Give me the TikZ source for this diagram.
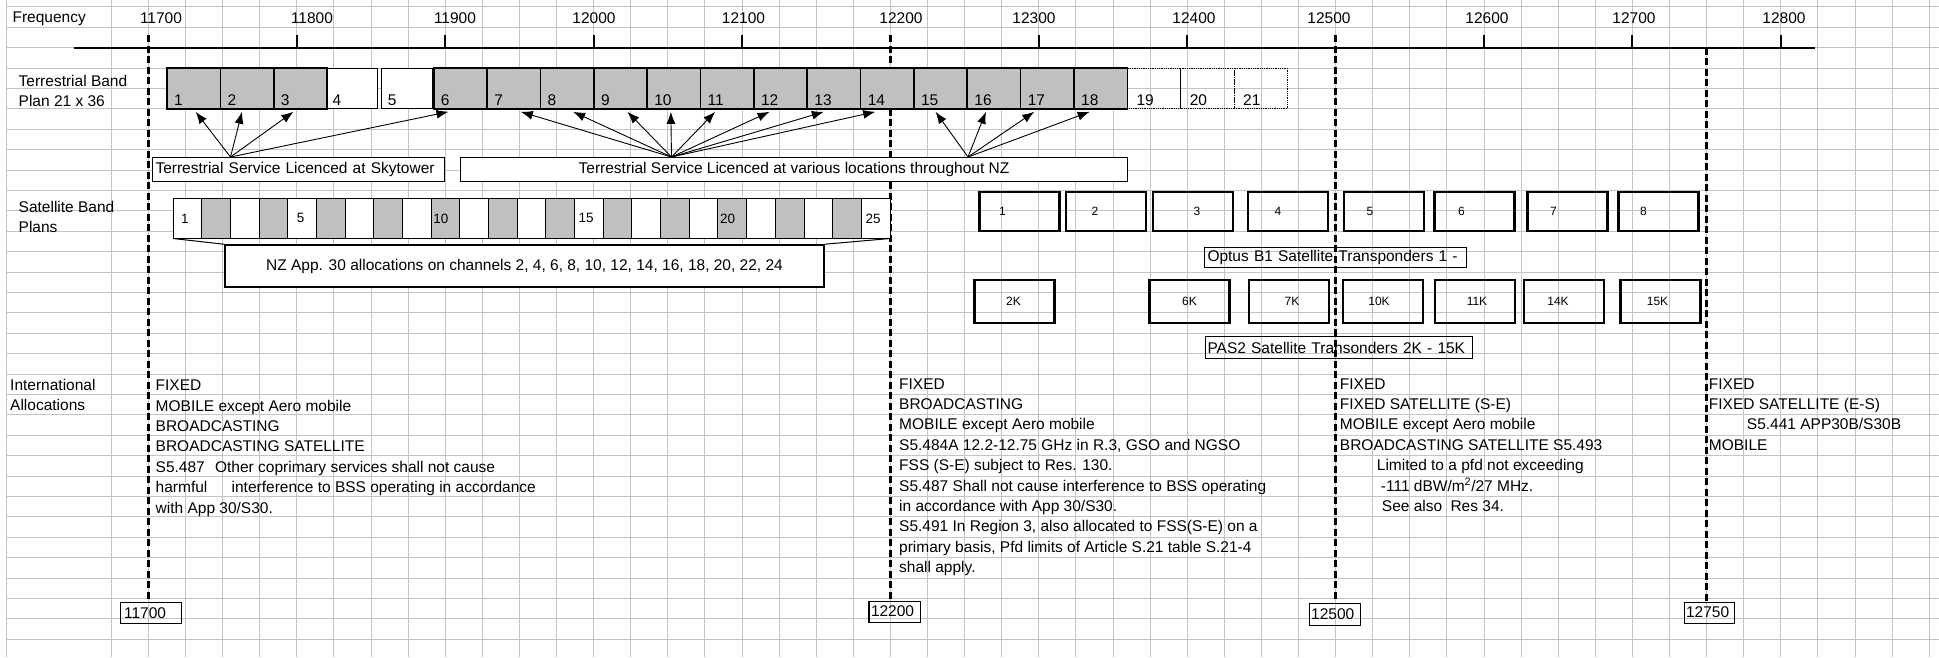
\documentclass[tikz,border=0pt]{standalone}
\usepackage{fontspec}
\setmainfont{Liberation Sans}
\usepackage{tikz}
\usetikzlibrary{arrows.meta, positioning}
\definecolor{cellgray}{RGB}{192,192,192}
\definecolor{gridgray}{RGB}{196,196,196}
\newcommand{\cellfont}{\fontsize{15.5}{20.4}\selectfont}
\newcommand{\numfont}{\fontsize{13.5}{16}\selectfont}
\newcommand{\xpfont}{\fontsize{12}{14}\selectfont}
\newcommand{\freqx}[1]{148.4+1.484*(#1-11700)}
\tikzstyle{every node}=[font=\cellfont]
\tikzstyle{gridline}=[draw=gridgray,line width=1pt]
\tikzstyle{freqline}=[line width=2.4pt,dash pattern=on 7pt off 3.5pt]
\tikzstyle{tchan}=[draw,line width=1.6pt,fill=cellgray,rectangle,minimum width=53.35pt,minimum height=40.8pt,inner sep=0pt,outer sep=0pt]
\tikzstyle{tnum}=[anchor=south west,inner sep=0pt,xshift=7pt,yshift=3pt]
\tikzstyle{schan}=[draw,line width=0.9pt,fill=white,rectangle,minimum width=28.68pt,minimum height=40.2pt,inner sep=0pt,outer sep=0pt]
\tikzstyle{xpdr}=[draw,line width=2.2pt,rectangle,minimum width=80pt,inner sep=0pt]
\tikzstyle{tag}=[draw,line width=1pt,rectangle,anchor=north west,inner sep=0pt]
\tikzstyle{fbox}=[draw,line width=1.2pt,rectangle,anchor=north west,minimum height=21pt,inner sep=0pt,align=left]
\tikzstyle{alloc}=[anchor=north west,align=left,inner sep=0pt]

\begin{document}
\begin{tikzpicture}[x=1pt,y=-1pt,>={Latex[length=12pt,width=9pt]}]
    \useasboundingbox (0,0) rectangle (1939,657);
    \fill[white] (0,0) rectangle (1939,657);
    \draw[gridline] (6.7,0) -- (6.7,657);
    \foreach \gx in {0,...,49}
        \draw[gridline] ({111.3+37.1*\gx},0) -- ({111.3+37.1*\gx},657);
    \foreach \gy in {0,...,31}
        \draw[gridline] (6.7,{6.8+20.4*\gy}) -- (1939,{6.8+20.4*\gy});

    \node[anchor=west] (freq) at (9,18.5) {Frequency};
    \node[alloc] (terrlbl) at (18.5,74.7) {Terrestrial Band\\Plan 21 x 36};
    \node[alloc] (satlbl) at (18.5,200.8) {Satellite Band\\Plans};
    \node[alloc] (intlbl) at (10,378.9) {International\\Allocations};

    \foreach \f/\lx in {11700/161,11800/312,11900/455,12000/594,12100/743.5,12200/901,12300/1034,12400/1194,12500/1329,12600/1487,12700/1634,12800/1784}
        \node (f\f) at (\lx,18.5) {\f};
    \draw[line width=2pt] (74,47.6) -- (1815,47.6);
    \foreach \f in {11800,11900,12000,12100,12300,12400,12600,12700,12800}
        \draw[line width=2pt] ({\freqx{\f}},35) -- ({\freqx{\f}},47.6);
    \foreach \f/\top in {11700/35,12200/35,12500/35,12750/47.6}
        \draw[freqline] ({\freqx{\f}},\top) -- ({\freqx{\f}},601);

    \node[tchan,fill=white,line width=1pt,minimum width=52.3pt,label={[tnum]south west:4}] (t4) at (351.65,88.4) {};
    \node[tchan,fill=white,line width=1pt,minimum width=50.9pt,label={[tnum,xshift=-1pt]south west:5}] (t5) at (407.15,88.4) {};
    \foreach \k in {1,2,3,6,7,8,9,10,11,12,13,14,15,16,17,18}
        \node[tchan,label={[tnum]south west:\k}] (t\k) at ({167+53.35*(\k-0.5)},88.4) {};
    \foreach \k in {19,20,21}
        \node[tchan,fill=none,line width=0.8pt,densely dotted,label={[tnum,xshift=2pt]south west:\k}] (t\k) at ({167+53.35*(\k-0.5)},88.4) {};
    \draw[line width=1pt] (t19.north east) -- (t19.south east);

    \node[tag,fill=white,minimum width=292pt,minimum height=24pt,text width=286pt,inner xsep=3pt,align=left] (sky) at (152,157) {Terrestrial Service Licenced at Skytower};
    \node[tag,fill=white,minimum width=667pt,minimum height=24pt] (various) at (460,157) {Terrestrial Service Licenced at various locations throughout NZ};
    \coordinate (skysrc) at ([xshift=-68pt]sky.north);
    \coordinate (nzsrc) at ([xshift=-122.5pt]various.north);
    \coordinate (aklsrc) at ([xshift=174pt]various.north);
    \foreach \k/\dx in {1/2,2/-5,3/-7,6/-12}
        \draw[->,line width=0.9pt] (skysrc) -- ([xshift=\dx,yshift=-3]t\k.south);
    \foreach \k/\dx in {7/7,8/6,9/7,10/-3,11/-12,12/-11,13/-10,14/-12}
        \draw[->,line width=0.9pt] (nzsrc) -- ([xshift=\dx,yshift=-3]t\k.south);
    \foreach \k/\dx in {15/-5,16/-8,17/-13,18/-11}
        \draw[->,line width=0.9pt] (aklsrc) -- ([xshift=\dx,yshift=-3]t\k.south);

    \node[schan,minimum width=717pt] (sband) at (531.5,218.4) {};
    \foreach \k in {1,3,...,25}
        \node[schan] (s\k) at ({173+28.68*(\k-0.5)},218.4) {};
    \foreach \k in {2,4,...,24}
        \node[schan,fill=cellgray] (s\k) at ({173+28.68*(\k-0.5)},218.4) {};
    \foreach \k/\dx in {1/8,5/9,10/2,15/4,20/2,25/4}
        \node[anchor=west,inner sep=0pt,font=\numfont] (sn\k) at ([xshift=\dx]s\k.west) {\k};
    \node[draw,line width=2pt,fill=white,minimum width=599pt,minimum height=42pt,inner sep=0pt] (nzapp) at (524.5,266.2) {NZ App. 30 allocations on channels 2, 4, 6, 8, 10, 12, 14, 16, 18, 20, 22, 24};
    \draw[line width=1pt] (sband.south west) -- (nzapp.north west);
    \draw[line width=1pt] (sband.south east) -- (nzapp.north east);

    \foreach \k/\cx/\dx in {1/1019.5/-17,2/1106/-11,3/1193/4,4/1288/-10,5/1384/-14,6/1474.5/-13,7/1567.5/-14,8/1658.5/-15}
        \node[xpdr,minimum height=39pt,label={[font=\xpfont,xshift=\dx]center:\k}] (o\k) at (\cx,211.5) {};
    \node[tag,minimum width=262pt,minimum height=20.6pt,text width=256pt,inner xsep=3pt,align=left] (optus) at (1204,246.7) {Optus B1 Satellite Transponders 1 -};
    \foreach \k/\cx/\dx in {2/1014.5/-1,6/1189.5/0,7/1289/3,10/1383/-4,11/1475/2,14/1564/-6,15/1660.5/-3}
        \node[xpdr,minimum height=43pt,label={[font=\xpfont,xshift=\dx]center:\k K}] (p\k) at (\cx,301.7) {};
    \node[tag,minimum width=267pt,minimum height=22pt,text width=263pt,inner xsep=2pt,align=left] (pas) at (1205,336) {PAS2 Satellite Transonders 2K - 15K};

    \node[alloc] (alloc1) at (155.5,379.8) {FIXED\\MOBILE except Aero mobile\\BROADCASTING\\BROADCASTING SATELLITE\\S5.487\hspace{6pt} Other coprimary services shall not cause\\harmful\hspace{20pt} interference to BSS operating in accordance\\with App 30/S30.};
    \node[alloc] (alloc2) at (899,378.3) {FIXED\\BROADCASTING\\MOBILE except Aero mobile\\S5.484A 12.2-12.75 GHz in R.3, GSO and NGSO\\FSS (S-E) subject to Res. 130.\\S5.487 Shall not cause interference to BSS operating\\in accordance with App 30/S30.\\S5.491 In Region 3, also allocated to FSS(S-E) on a\\primary basis, Pfd limits of Article S.21 table S.21-4\\shall apply.};
    \node[alloc] (alloc3) at (1339.7,378.3) {FIXED\\FIXED SATELLITE (S-E)\\MOBILE except Aero mobile\\BROADCASTING SATELLITE S5.493\\\hspace*{37pt}Limited to a pfd not exceeding\\\hspace*{41pt}-111 dBW/m\textsuperscript{2}/27 MHz.\\\hspace*{42pt}See also\hspace{4pt} Res 34.};
    \node[alloc] (alloc4) at (1708.7,378.3) {FIXED\\FIXED SATELLITE (E-S)\\\hspace*{38pt}S5.441 APP30B/S30B\\MOBILE};

    \node[fbox,text width=54pt,inner xsep=3.5pt] (b11700) at (120,601.7) {11700};
    \node[fbox,text width=47.4pt,inner xsep=2pt] (b12200) at (868.4,600.5) {12200};
    \node[fbox,text width=47.3pt,inner xsep=2pt,minimum height=22.5pt] (b12500) at (1308.6,602.7) {12500};
    \node[fbox,text width=46.5pt,inner xsep=2pt] (b12750) at (1683.5,601.5) {12750};
\end{tikzpicture}
\end{document}
